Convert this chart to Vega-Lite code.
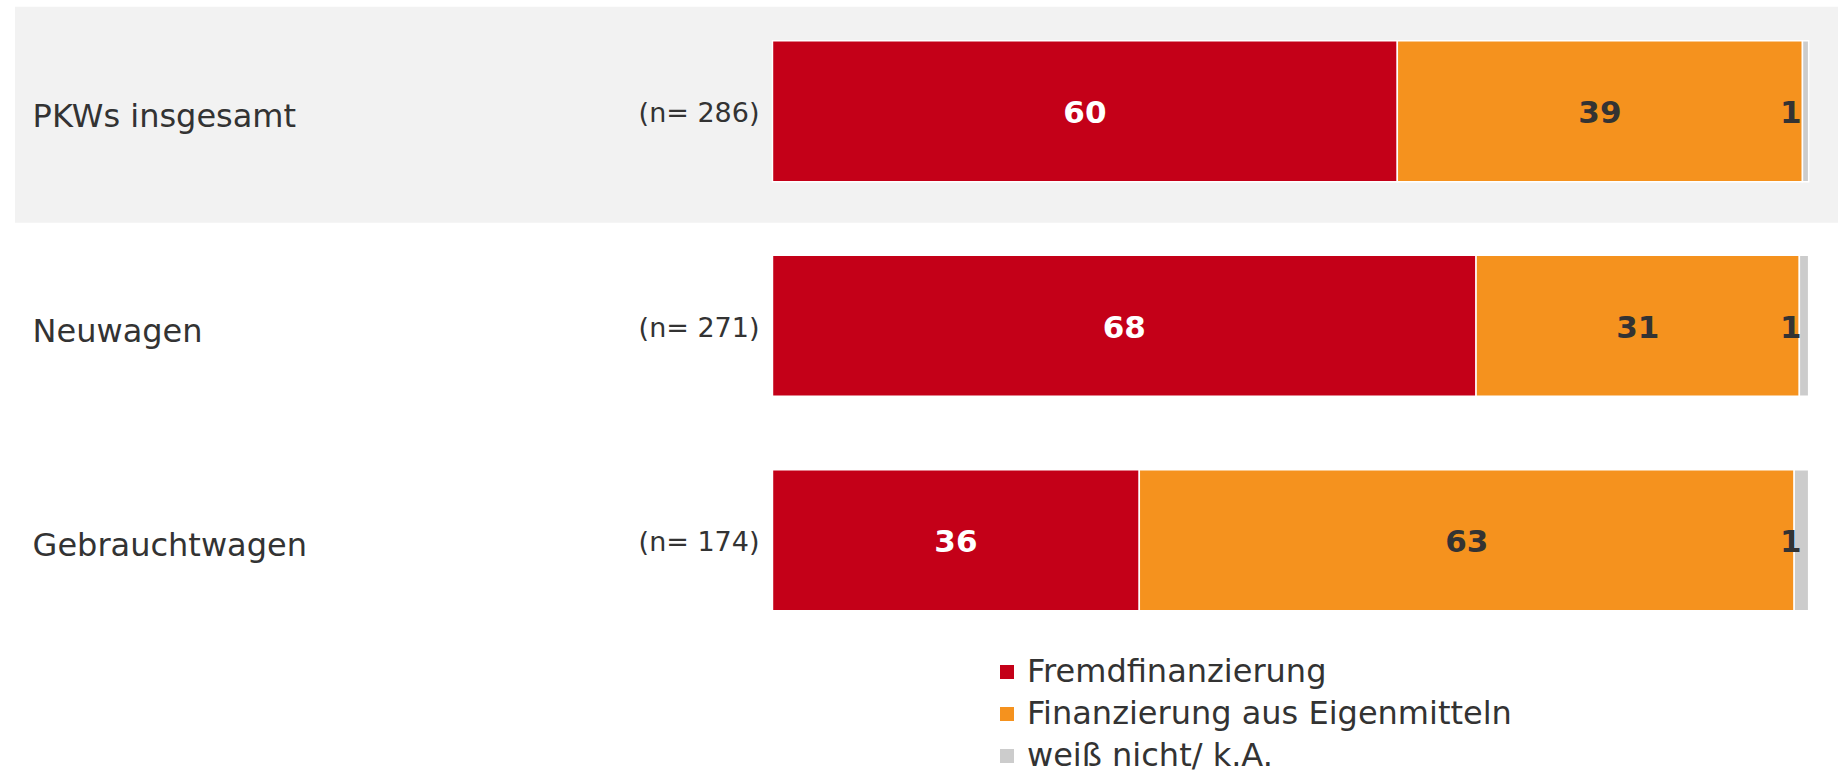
{
  "$schema": "https://vega.github.io/schema/vega-lite/v6.json",
  "width": 1823,
  "height": 643.5,
  "padding": {"left": 15, "top": 4, "right": 0, "bottom": 0},
  "background": "white",
  "config": {"view": {"stroke": null}, "font": "DejaVu Sans"},
  "data": {
    "values": [
      {"group": "PKWs insgesamt", "n": "(n= 286)", "cat": "Fremdfinanzierung", "k": 1, "value": 60.3, "label": "60"},
      {"group": "PKWs insgesamt", "n": "(n= 286)", "cat": "Finanzierung aus Eigenmitteln", "k": 2, "value": 39.1, "label": "39"},
      {"group": "PKWs insgesamt", "n": "(n= 286)", "cat": "weiß nicht/ k.A.", "k": 3, "value": 0.6, "label": "1"},
      {"group": "Neuwagen", "n": "(n= 271)", "cat": "Fremdfinanzierung", "k": 1, "value": 67.9, "label": "68"},
      {"group": "Neuwagen", "n": "(n= 271)", "cat": "Finanzierung aus Eigenmitteln", "k": 2, "value": 31.2, "label": "31"},
      {"group": "Neuwagen", "n": "(n= 271)", "cat": "weiß nicht/ k.A.", "k": 3, "value": 0.9, "label": "1"},
      {"group": "Gebrauchtwagen", "n": "(n= 174)", "cat": "Fremdfinanzierung", "k": 1, "value": 35.4, "label": "36"},
      {"group": "Gebrauchtwagen", "n": "(n= 174)", "cat": "Finanzierung aus Eigenmitteln", "k": 2, "value": 63.2, "label": "63"},
      {"group": "Gebrauchtwagen", "n": "(n= 174)", "cat": "weiß nicht/ k.A.", "k": 3, "value": 1.4, "label": "1"}
    ]
  },
  "encoding": {
    "y": {"field": "group", "type": "nominal", "sort": ["PKWs insgesamt", "Neuwagen", "Gebrauchtwagen"], "axis": null,
          "scale": {"paddingInner": 0.343, "paddingOuter": 0.1715}}
  },
  "layer": [
    {
      "transform": [{"filter": "datum.k === 1 && datum.group === 'PKWs insgesamt'"}],
      "mark": {"type": "bar", "color": "#F2F2F2", "height": {"band": 1.532}, "yOffset": 3.5},
      "encoding": {
        "x": {"datum": -73.1, "type": "quantitative", "axis": null},
        "x2": {"datum": 102.83}
      }
    },
    {
      "mark": {"type": "bar", "stroke": "white", "strokeWidth": 1.5},
      "encoding": {
        "x": {"field": "value", "type": "quantitative", "stack": "zero", "axis": null,
              "scale": {"domain": [-73.1, 102.83], "nice": false, "zero": false}},
        "color": {"field": "cat", "type": "nominal",
                  "scale": {"domain": ["Fremdfinanzierung", "Finanzierung aus Eigenmitteln", "weiß nicht/ k.A."],
                            "range": ["#C40018", "#F5921E", "#CCCCCC"]},
                  "legend": {"orient": "none", "legendX": 976, "legendY": 652, "title": null, "symbolType": "square",
                             "symbolSize": 196, "symbolStrokeWidth": 0, "symbolOpacity": 1, "labelFontSize": 32,
                             "labelFont": "DejaVu Sans", "labelColor": "#333333", "rowPadding": 10, "labelOffset": 4,
                             "padding": 0, "labelLimit": 800}},
        "order": {"field": "k", "type": "quantitative"}
      }
    },
    {
      "mark": {"type": "text", "font": "DejaVu Sans", "fontWeight": "bold", "fontSize": 31, "baseline": "middle", "align": "center", "dy": 3},
      "encoding": {
        "x": {"field": "value", "type": "quantitative", "stack": "zero", "bandPosition": 0.5, "axis": null},
        "detail": {"field": "cat", "type": "nominal"},
        "order": {"field": "k", "type": "quantitative"},
        "text": {"field": "label", "type": "nominal"},
        "color": {"condition": {"test": "datum.k === 1", "value": "#FFFFFF"}, "value": "#333333"},
        "opacity": {"condition": {"test": "datum.k === 3", "value": 0}, "value": 1}
      }
    },
    {
      "mark": {"type": "text", "font": "DejaVu Sans", "fontWeight": "bold", "fontSize": 31, "baseline": "middle", "align": "right", "dx": -7, "dy": 3, "color": "#333333"},
      "encoding": {
        "x": {"field": "value", "type": "quantitative", "stack": "zero", "axis": null},
        "detail": {"field": "cat", "type": "nominal"},
        "order": {"field": "k", "type": "quantitative"},
        "text": {"field": "label", "type": "nominal"},
        "opacity": {"condition": {"test": "datum.k === 3", "value": 1}, "value": 0}
      }
    },
    {
      "transform": [{"filter": "datum.k === 1"}],
      "mark": {"type": "text", "font": "DejaVu Sans", "fontSize": 32, "baseline": "middle", "align": "left", "dy": 6, "color": "#333333"},
      "encoding": {
        "x": {"datum": -71.4, "type": "quantitative", "axis": null},
        "text": {"field": "group", "type": "nominal"}
      }
    },
    {
      "transform": [{"filter": "datum.k === 1"}],
      "mark": {"type": "text", "font": "DejaVu Sans", "fontSize": 27, "baseline": "middle", "align": "right", "dy": 3, "color": "#333333"},
      "encoding": {
        "x": {"datum": -1.25, "type": "quantitative", "axis": null},
        "text": {"field": "n", "type": "nominal"}
      }
    }
  ]
}
